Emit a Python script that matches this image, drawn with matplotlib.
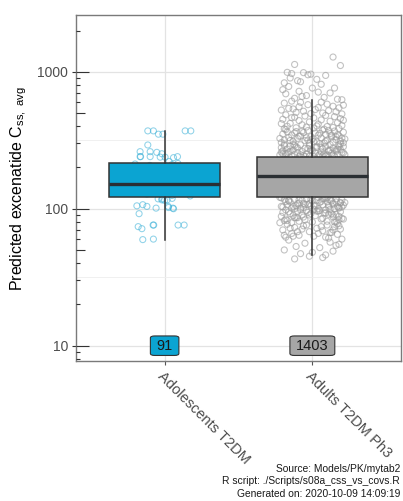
import numpy as np
import matplotlib.pyplot as plt
from matplotlib.ticker import FixedLocator, NullFormatter, FuncFormatter

plt.rcParams['font.family'] = ['Liberation Sans', 'DejaVu Sans']

groups = ["Adolescents T2DM", "Adults T2DM Ph3"]
n_subjects = [91, 1403]
box_colors = ["#0BA4D2", "#A6A6A6"]
point_colors = ["#35AED6", "#9A9A9A"]

# box statistics
q1 = [122, 122]
med = [151, 173]
q3 = [216, 238]
whis_lo = [59.5, 46]
whis_hi = [370, 622]

# adolescents: predicted Css,avg (all 91) and the jitter seen in the picture
adol_css = [370, 370, 350, 350, 370, 370, 292, 261, 261, 258,
            252, 240, 240, 240, 238, 238, 236, 240, 221, 118,
            118, 116, 119, 105, 107, 104, 101, 104, 100, 92,
            74, 71.5, 76, 76, 76, 76, 59.5, 60, 116, 115,
            102, 101, 124,
            125, 128, 131, 133, 136, 138, 140, 142, 143, 145,
            146, 148, 149, 150, 151, 152, 153, 155, 156, 158,
            160, 162, 164, 166, 168, 170, 172, 174, 176, 178,
            180, 183, 186, 189, 192, 195, 198, 201, 204, 207,
            210, 212, 214, 130, 139, 147, 159, 171]
adol_jitter = [-0.114, -0.076, -0.042, -0.012, 0.139, 0.177, -0.114, -0.166, -0.098, -0.053,
               -0.019, -0.166, -0.163, -0.098, -0.030, 0.003, 0.060, 0.087, 0.03, -0.044,
               -0.017, 0.017, 0.051, -0.188, -0.148, -0.12, -0.058, 0.024, 0.06, -0.173,
               -0.179, -0.154, -0.078, -0.074, 0.091, 0.132, -0.148, -0.076, -0.019, 0.0,
               0.026, 0.056, 0.173,
               0.05, -0.12, 0.15, -0.03, 0.09, -0.18, 0.11, -0.07, 0.02, 0.17,
               -0.14, 0.06, -0.09, 0.13, -0.01, 0.19, -0.16, 0.04, -0.05, 0.12,
               -0.11, 0.08, -0.19, 0.14, -0.02, 0.1, -0.15, 0.03, 0.18, -0.08,
               0.07, -0.13, 0.16, -0.04, 0.01, -0.17, 0.11, -0.06, 0.15, -0.1,
               0.05, -0.2, 0.09, -0.12, 0.13, -0.01, 0.07, -0.16]

# adults: visible points above the box (the ones inside the box are hidden by it)
adult_hi_css = [1280, 1130, 1110,
                990, 970, 985, 950, 900, 880, 940, 860, 830, 810, 960, 845,
                780, 760, 720, 700, 690, 760, 670, 650, 640, 630, 740, 710, 660, 625,
                610, 600, 590, 580, 575, 560, 555, 545, 540, 530, 525, 520, 515, 510, 505, 500, 495, 492, 598, 570, 535, 548,
                485, 480, 475, 470, 465, 460, 455, 450, 445, 440, 435, 430, 425, 420, 415, 410, 405, 400, 398, 395,
                392, 390, 388, 385, 383, 381, 462, 442, 418, 402,
                379, 375, 372, 369, 366, 362, 360, 357, 354, 351, 349, 346, 344, 341, 339, 336, 334, 331, 329, 327,
                325, 322, 320, 318, 316, 314, 312, 310, 308, 306, 304, 302, 301, 373, 364, 355, 347, 338, 330, 323,
                315, 309, 303, 368, 343, 326, 311, 358, 335, 317,
                299, 296, 294, 293, 291, 288, 287, 285, 284, 282, 280, 279, 277, 276, 274, 273, 271, 270, 268, 267,
                266, 264, 263, 262, 260, 259, 258, 257, 255, 254, 253, 252, 251, 250, 249, 248, 247, 246, 245, 244,
                243, 242, 241, 240, 297, 289, 281, 275, 269, 261, 256, 248, 243, 290, 272, 265, 251, 246, 286, 278,
                262, 254, 244, 241, 283, 259, 249, 295, 270, 242]
adult_hi_jitter = [0.14, -0.12, 0.19,
                   -0.17, -0.14, -0.06, -0.03, -0.15, 0.03, 0.09, -0.10, -0.19, 0.06, -0.01, -0.08,
                   -0.16, 0.00, -0.09, 0.12, -0.18, 0.15, -0.04, 0.08, -0.12, 0.17, -0.20, 0.04, -0.07, 0.20,
                   -0.14, 0.06, -0.19, 0.10, -0.03, 0.14, -0.09, 0.18, -0.16, 0.02, -0.21, 0.11, -0.06, 0.16, -0.11, 0.07, -0.01, 0.20, -0.08, 0.21, -0.13, 0.04,
                   -0.18, 0.09, -0.05, 0.15, -0.12, 0.01, 0.19, -0.20, 0.06, -0.09, 0.12, -0.02, 0.17, -0.15, 0.04, -0.07, 0.20, -0.17, 0.10, -0.04,
                   0.14, -0.11, 0.01, 0.18, -0.19, 0.08, -0.14, 0.21, -0.21, 0.03,
                   -0.18, 0.07, -0.03, 0.15, -0.11, 0.21, -0.06, 0.02, 0.12, -0.20, 0.09, -0.14, 0.04, 0.18, -0.08, -0.01, 0.13, -0.16, 0.06, 0.20,
                   -0.10, 0.00, 0.16, -0.19, 0.10, -0.05, 0.19, -0.13, 0.03, 0.14, -0.21, 0.08, -0.02, 0.11, -0.17, 0.05, 0.17, -0.09, -0.04, 0.22,
                   -0.15, 0.01, 0.21, -0.07, 0.13, -0.22, 0.09, -0.12, 0.16, -0.03,
                   0.05, -0.19, 0.12, -0.08, 0.18, -0.02, -0.15, 0.09, 0.21, -0.11, 0.03, -0.21, 0.14, -0.05, 0.07, -0.17, 0.19, -0.01, -0.13, 0.11,
                   0.00, -0.20, 0.16, -0.07, 0.06, -0.16, 0.20, -0.10, 0.02, 0.13, -0.18, 0.08, -0.04, 0.17, -0.12, 0.22, -0.22, 0.10, -0.06, 0.04,
                   -0.14, 0.15, -0.09, 0.01, 0.19, -0.19, 0.06, -0.03, 0.12, -0.15, 0.21, -0.08, 0.09, -0.12, 0.17, -0.01, -0.20, 0.14, 0.03, -0.10,
                   0.11, -0.17, 0.07, -0.05, 0.18, -0.21, 0.05, -0.13, 0.16, -0.02]

# adults: visible points below the box
adult_lo_css = [120, 119, 118, 118, 117, 116, 115, 115, 114, 113, 112, 112, 111, 110, 110, 109, 108, 107, 107, 106,
                105, 105, 104, 103, 103, 102, 101, 101, 100, 100, 121, 119, 117, 116, 114, 113, 111, 109, 108, 106,
                104, 102, 101, 120, 117, 114, 110, 107, 103, 100, 118, 115, 112, 109, 106, 104, 121, 116, 111, 105,
                99, 98, 97, 96, 95, 94, 93, 92, 91, 90, 89, 88, 87, 86, 85, 84, 83, 82, 81, 80,
                79, 78, 98, 96, 94, 92, 90, 88, 86, 84, 82, 80, 97, 93, 89, 85, 81, 99, 95, 91,
                87, 83, 79, 96, 90, 86, 98, 92, 84, 80,
                77, 76, 75, 74, 73, 72, 71, 70, 69, 68, 67, 66, 65, 64, 63, 62, 61, 60, 76, 74,
                72, 70, 68, 66, 64, 62, 75, 71, 67, 63,
                59, 57, 56, 55, 53, 52, 50, 49, 48, 47, 46, 54,
                45, 44, 43]
adult_lo_jitter = [-0.21, 0.08, -0.04, 0.16, -0.12, 0.20, -0.07, 0.03, 0.13, -0.18, 0.10, -0.15, 0.05, 0.19, -0.09, -0.02, 0.14, -0.17, 0.07, 0.21,
                   -0.11, 0.01, 0.17, -0.20, 0.11, -0.06, 0.18, -0.14, 0.04, 0.15, -0.22, 0.09, -0.01, 0.12, -0.16, 0.06, 0.22, -0.10, -0.05, 0.02,
                   -0.13, 0.18, -0.08, 0.10, -0.19, 0.00, 0.14, -0.03, 0.20, -0.12, 0.07, -0.16, 0.16, -0.06, 0.11, -0.21, 0.04, -0.09, 0.19, -0.01,
                   0.12, -0.18, 0.05, -0.10, 0.19, -0.03, 0.09, -0.15, 0.16, -0.07, 0.02, -0.21, 0.14, -0.12, 0.07, 0.21, -0.05, -0.17, 0.10, 0.00,
                   -0.14, 0.17, -0.08, 0.04, -0.20, 0.13, -0.02, 0.18, -0.11, 0.06, -0.19, 0.15, -0.04, 0.08, -0.13, 0.20, -0.09, 0.01, -0.16, 0.11,
                   -0.06, 0.18, -0.22, 0.03, 0.14, -0.10, 0.09, -0.01, -0.18, 0.16,
                   -0.17, 0.10, -0.06, 0.15, -0.12, 0.03, 0.19, -0.20, 0.07, -0.02, 0.13, -0.14, 0.17, -0.09, 0.01, -0.18, 0.11, 0.20, -0.04, 0.06,
                   -0.15, 0.14, -0.10, 0.04, -0.19, 0.09, 0.18, -0.07, 0.12, -0.13,
                   -0.16, 0.12, -0.05, 0.18, -0.11, 0.05, -0.19, 0.14, 0.00, -0.08, 0.09, 0.16,
                   -0.02, 0.07, -0.12]

caption = ["Source: Models/PK/mytab2",
           "R script: ./Scripts/s08a_css_vs_covs.R",
           "Generated on: 2020-10-09 14:09:19"]

ylims = (7.73, 2594)
xlims = (0.4, 2.6)
panel = [0.1886, 0.2794, 0.8064, 0.6906]

fig = plt.figure(figsize=(4.03, 5.01), dpi=100)
ax = fig.add_axes(panel)
ax.set_yscale('log')
ax.set_ylim(*ylims)
ax.set_xlim(*xlims)

# grid
ax.set_axisbelow(True)
ax.yaxis.set_major_locator(FixedLocator([10, 100, 1000]))
ax.yaxis.set_major_formatter(FuncFormatter(lambda v, p: f'{v:g}'))
ax.yaxis.set_minor_locator(FixedLocator([10**1.5, 10**2.5]))
ax.yaxis.set_minor_formatter(NullFormatter())
ax.set_xticks([1, 2])
ax.grid(which='major', color='#E3E3E3', lw=0.9)
ax.grid(which='minor', axis='y', color='#EEEEEE', lw=0.6)

# jittered points
ax.scatter(1 + np.array(adol_jitter), adol_css, s=19, facecolors='none',
           edgecolors=point_colors[0], linewidths=0.75, alpha=0.55, zorder=2)
ad_x = np.concatenate([adult_hi_jitter, adult_lo_jitter]) + 2
ad_y = np.concatenate([adult_hi_css, adult_lo_css])
ax.scatter(ad_x, ad_y, s=19, facecolors='none',
           edgecolors=point_colors[1], linewidths=0.8, alpha=0.6, zorder=2)

# boxes
stats = []
for i in range(2):
    stats.append(dict(q1=q1[i], med=med[i], q3=q3[i], whislo=whis_lo[i], whishi=whis_hi[i], fliers=[]))
bp = ax.bxp(stats, positions=[1, 2], widths=0.75, patch_artist=True, showfliers=False,
            showcaps=False, manage_ticks=False,
            boxprops=dict(edgecolor='#333333', linewidth=1.1),
            whiskerprops=dict(color='#333333', linewidth=1.1),
            medianprops=dict(color='#2A2F33', linewidth=2.4))
for patch, c in zip(bp['boxes'], box_colors):
    patch.set_facecolor(c)
    patch.set_zorder(3)
for ln in bp['whiskers'] + bp['medians']:
    ln.set_zorder(4)

# n labels
for i, n in enumerate(n_subjects):
    ax.text(i + 1, 10, str(n), ha='center', va='center', fontsize=10.5, color='#1a1a1a', zorder=5,
            bbox=dict(boxstyle='round,pad=0.42,rounding_size=0.3', fc=box_colors[i], ec='#333333',
                      lw=0.8, mutation_aspect=0.45))

# axes styling
for sp in ax.spines.values():
    sp.set_color('#7A7A7A')
    sp.set_linewidth(1.0)
ax.tick_params(axis='y', which='major', direction='out', length=3, width=0.8, color='#333333',
               labelsize=10, labelcolor='#4D4D4D', pad=2.5)
ax.tick_params(axis='y', which='minor', length=0)
ax.tick_params(axis='x', which='major', direction='out', length=3, width=0.8, color='#555555',
               labelsize=10.5, labelcolor='#4D4D4D', pad=3)
ax.set_xticklabels(groups, rotation=-45, ha='left', va='top', rotation_mode='anchor')


# log ticks inside the panel (long at decades, mid at 5s, short elsewhere)
def tick_layer(major, minor, major_len, minor_len):
    t = fig.add_axes(panel)
    t.set_yscale('log')
    t.set_ylim(*ylims)
    t.set_xlim(*xlims)
    t.patch.set_visible(False)
    for sp in t.spines.values():
        sp.set_visible(False)
    t.xaxis.set_visible(False)
    t.yaxis.set_major_locator(FixedLocator(major))
    t.yaxis.set_minor_locator(FixedLocator(minor))
    t.tick_params(axis='y', which='major', direction='in', length=major_len, width=0.8,
                  color='#333333', labelleft=False)
    t.tick_params(axis='y', which='minor', direction='in', length=minor_len, width=0.8,
                  color='#333333', labelleft=False)
    return t


tick_layer([10, 100, 1000], [8, 9, 20, 30, 40, 60, 70, 80, 90,
                             200, 300, 400, 600, 700, 800, 900, 2000], 9.4, 3)
tick_layer([50, 500], [], 6.5, 0)

ax.set_ylabel(r'Predicted excenatide C$_{\mathregular{ss,\ avg}}$', fontsize=11.5, color='black', labelpad=6)

for k, line in enumerate(caption):
    fig.text(0.993, (501 - 469 - 12.5 * k) / 501, line, ha='right', va='center', fontsize=7.4, color='#1a1a1a')

fig.savefig('out.png', dpi=100)
